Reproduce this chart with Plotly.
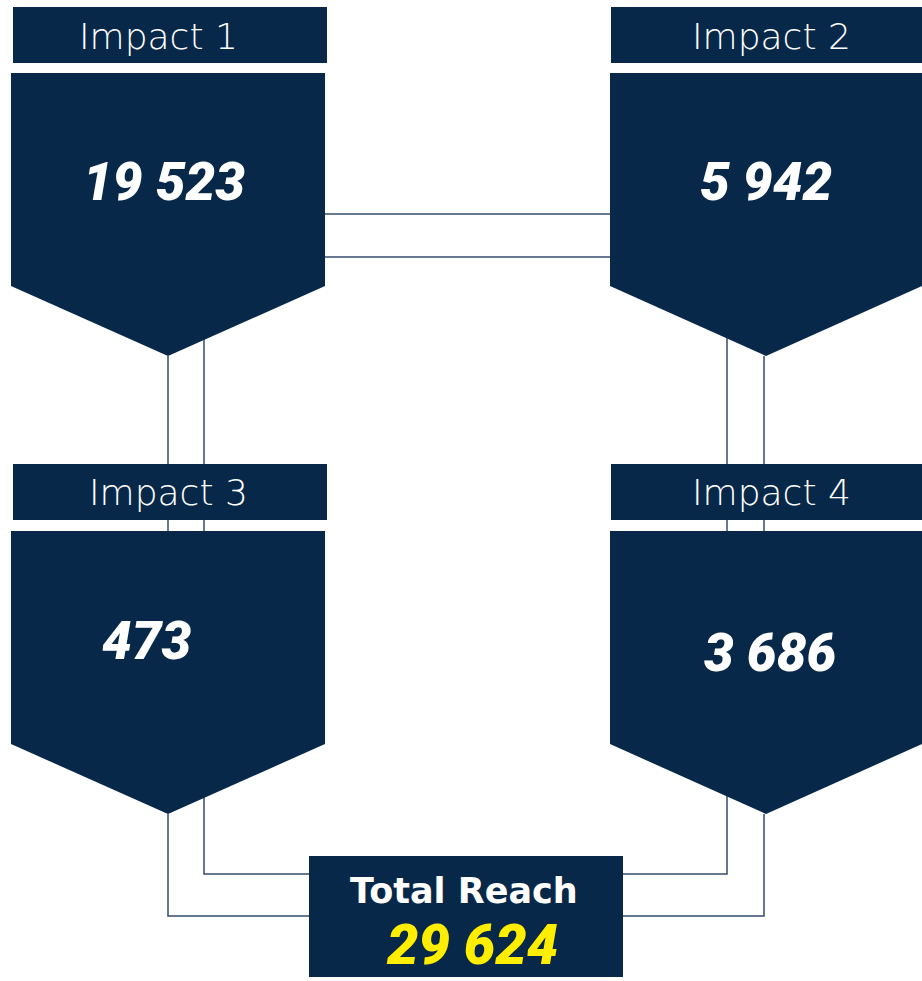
import plotly.graph_objects as go

# data
labels = ["Impact 1", "Impact 2", "Impact 3", "Impact 4"]
values = ["19 523", "5 942", "473", "3 686"]
total_label = "Total Reach"
total_value = "29 624"

NAVY = "#08284a"
LINE = "#354c6b"
W, H = 922, 981

# panel layout: header box (x0, x1, top), chevron (x0, x1, top)
headers = [(13, 327, 7), (611, 922, 7), (13, 327, 464), (611, 922, 464)]
chevrons = [(11, 325, 73), (610, 922, 73), (11, 325, 531), (610, 922, 531)]
label_pos = [(158, 36), (771, 36), (168, 492), (771, 492)]
value_pos = [(164, 182), (766, 182), (147, 641), (770, 653)]

fig = go.Figure()
shapes = []


def seg(pts):
    d = "M " + " L ".join(f"{x},{y}" for x, y in pts)
    shapes.append(dict(type="path", path=d, line=dict(color=LINE, width=1.5)))


# connector lines (drawn first so the boxes sit on top)
seg([(325, 214), (610, 214)])
seg([(325, 257), (610, 257)])
seg([(168, 356), (168, 531)])
seg([(204, 300), (204, 531)])
seg([(727, 300), (727, 531)])
seg([(764, 356), (764, 531)])
seg([(168, 814), (168, 916), (310, 916)])
seg([(204, 760), (204, 874), (310, 874)])
seg([(727, 760), (727, 874), (623, 874)])
seg([(764, 814), (764, 916), (623, 916)])

annotations = []
for (hx0, hx1, ht), (x0, x1, ct), lab, val, (lx, ly), (vx, vy) in zip(
        headers, chevrons, labels, values, label_pos, value_pos):
    shapes.append(dict(type="rect", x0=hx0, x1=hx1, y0=ht, y1=ht + 56,
                       fillcolor=NAVY, line=dict(width=0)))
    mid = (x0 + x1) / 2
    d = f"M {x0},{ct} L {x1},{ct} L {x1},{ct + 213} L {mid},{ct + 283} L {x0},{ct + 213} Z"
    shapes.append(dict(type="path", path=d, fillcolor=NAVY, line=dict(width=0)))
    annotations.append(dict(x=lx, y=ly, text=lab, showarrow=False,
                            font=dict(family="DejaVu Sans", size=36, color="white", weight=200)))
    annotations.append(dict(x=vx, y=vy, text=val, showarrow=False,
                            font=dict(family="Roboto", size=53, color="white",
                                      weight=900, style="italic")))

# total box
shapes.append(dict(type="rect", x0=309, x1=623, y0=856, y1=977, fillcolor=NAVY, line=dict(width=0)))
annotations.append(dict(x=464, y=891, text=total_label, showarrow=False,
                        font=dict(family="DejaVu Sans", size=35, color="white", weight="bold")))
annotations.append(dict(x=472, y=945, text=total_value, showarrow=False,
                        font=dict(family="Roboto", size=56, color="#ffee00",
                                  weight=900, style="italic")))

fig.update_layout(
    width=W, height=H,
    margin=dict(l=0, r=0, t=0, b=0),
    paper_bgcolor="white", plot_bgcolor="white",
    xaxis=dict(range=[0, W], visible=False, fixedrange=True),
    yaxis=dict(range=[H, 0], visible=False, fixedrange=True),
    shapes=shapes, annotations=annotations,
    showlegend=False,
)

# drop the default page margin so the figure sits at the window origin
fig.write_html("out.html", post_script="document.body.style.margin='0';",
               config={"displayModeBar": False})
